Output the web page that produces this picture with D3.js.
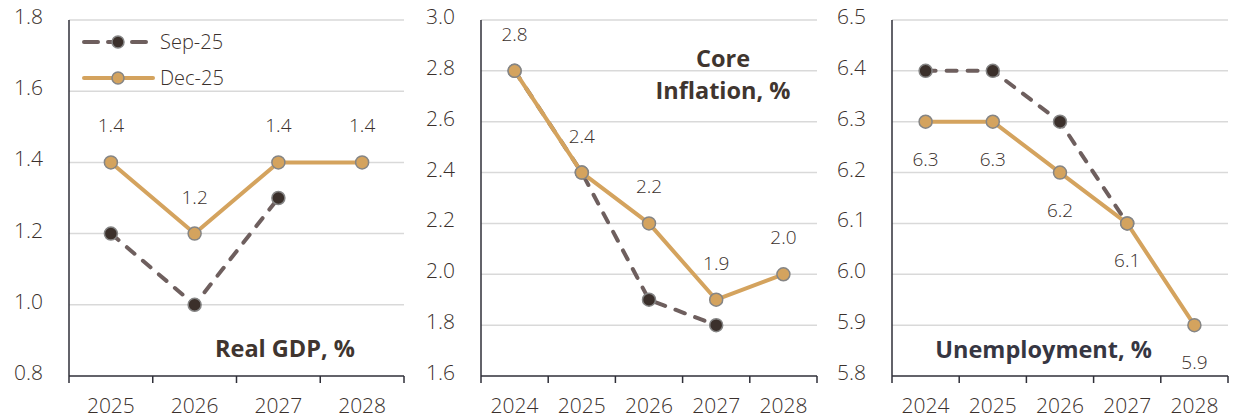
<!DOCTYPE html>
<html>
<head>
<meta charset="utf-8">
<script src="https://cdn.jsdelivr.net/npm/d3@7"></script>
<style>
  body { margin: 0; background: #fff; }
  svg { display: block; }
</style>
</head>
<body>
<div id="chart"></div>
<script>
// data
var seriesNames = ["Sep-25", "Dec-25"];

var gdpYears = ["2025", "2026", "2027", "2028"];
var gdpSep = [1.2, 1.0, 1.3, null];
var gdpDec = [1.4, 1.2, 1.4, 1.4];
var gdpTicks = [0.8, 1.0, 1.2, 1.4, 1.6, 1.8];

var coreYears = ["2024", "2025", "2026", "2027", "2028"];
var coreSep = [2.8, 2.4, 1.9, 1.8, null];
var coreDec = [2.8, 2.4, 2.2, 1.9, 2.0];
var coreTicks = [1.6, 1.8, 2.0, 2.2, 2.4, 2.6, 2.8, 3.0];

var unempYears = ["2024", "2025", "2026", "2027", "2028"];
var unempSep = [6.4, 6.4, 6.3, 6.1, null];
var unempDec = [6.3, 6.3, 6.2, 6.1, 5.9];
var unempTicks = [5.8, 5.9, 6.0, 6.1, 6.2, 6.3, 6.4, 6.5];

var W = 1242, H = 419;
var plotTop = 20, plotBottom = 376;
var font = "'Open Sans', sans-serif";
var decColor = "#d4a35e", sepColor = "#6e5f5e", sepDot = "#3b302b", dotStroke = "#858585";
var textColor = "#3a302c";

var svg = d3.select("#chart").append("svg")
    .attr("width", W).attr("height", H)
    .style("background", "#fff");

var panels = [
  { x0: 69, x1: 404, years: gdpYears, sep: gdpSep, dec: gdpDec, ticks: gdpTicks, labelDir: -1 },
  { x0: 481, x1: 817, years: coreYears, sep: coreSep, dec: coreDec, ticks: coreTicks, labelDir: -1 },
  { x0: 892, x1: 1228, years: unempYears, sep: unempSep, dec: unempDec, ticks: unempTicks, labelDir: 1 }
];

panels.forEach(function(p) {
  var x = d3.scaleBand().domain(p.years).range([p.x0, p.x1]);
  var y = d3.scaleLinear().domain(d3.extent(p.ticks)).range([plotBottom, plotTop]);
  var g = svg.append("g");

  // gridlines
  g.selectAll(".grid").data(p.ticks.slice(1)).enter().append("line")
    .attr("x1", p.x0).attr("x2", p.x1)
    .attr("y1", function(d) { return y(d); }).attr("y2", function(d) { return y(d); })
    .style("stroke", "#d9d9d9").style("stroke-width", 1.5);

  // y tick labels
  g.selectAll(".ylab").data(p.ticks).enter().append("text")
    .attr("x", p.x0 - 26).attr("y", function(d) { return y(d) + 4; })
    .style("text-anchor", "end")
    .style("font-family", font).style("font-size", "21px").style("font-weight", 300)
    .attr("fill", textColor)
    .text(function(d) { return d.toFixed(1); });

  // axis lines
  g.append("line").attr("x1", p.x0).attr("x2", p.x0).attr("y1", plotTop).attr("y2", plotBottom)
    .style("stroke", "#2f2f38").style("stroke-width", 1.5);
  g.append("line").attr("x1", p.x0).attr("x2", p.x1).attr("y1", plotBottom).attr("y2", plotBottom)
    .style("stroke", "#2f2f38").style("stroke-width", 1.5);
  var edges = p.years.map(function(d) { return x(d); }).concat([p.x1]);
  g.selectAll(".tk").data(edges).enter().append("line")
    .attr("x1", function(d) { return d; }).attr("x2", function(d) { return d; })
    .attr("y1", plotBottom).attr("y2", plotBottom + 7)
    .style("stroke", "#2f2f38").style("stroke-width", 1.5);
  g.selectAll(".xlab").data(p.years).enter().append("text")
    .attr("x", function(d) { return x(d) + x.bandwidth() / 2; })
    .attr("y", 413)
    .style("text-anchor", "middle")
    .style("font-family", font).style("font-size", "21px").style("font-weight", 300)
    .attr("fill", textColor)
    .text(function(d) { return d; });

  var cx = function(d, i) { return x(p.years[i]) + x.bandwidth() / 2; };
  var line = d3.line()
    .defined(function(d) { return d !== null; })
    .x(cx).y(function(d) { return y(d); });

  // Sep-25 dashed
  g.append("path").datum(p.sep).attr("d", line)
    .style("fill", "none").style("stroke", sepColor).style("stroke-width", 4)
    .style("stroke-dasharray", "10,11").style("stroke-linecap", "round");
  p.sep.forEach(function(d, i) {
    if (d === null) return;
    g.append("circle").attr("cx", cx(d, i)).attr("cy", y(d)).attr("r", 6.5)
      .style("fill", sepDot).style("stroke", dotStroke).style("stroke-width", 1.5);
  });

  // Dec-25 solid
  g.append("path").datum(p.dec).attr("d", line)
    .style("fill", "none").style("stroke", decColor).style("stroke-width", 4)
    .style("stroke-linejoin", "round");
  p.dec.forEach(function(d, i) {
    if (d === null) return;
    g.append("circle").attr("cx", cx(d, i)).attr("cy", y(d)).attr("r", 6.5)
      .style("fill", decColor).style("stroke", dotStroke).style("stroke-width", 1.5);
    g.append("text")
      .attr("x", cx(d, i))
      .attr("y", y(d) + (p.labelDir < 0 ? -30 : 44))
      .style("text-anchor", "middle")
      .style("font-family", font).style("font-size", "19px").style("font-weight", 300)
      .attr("fill", textColor)
      .text(d.toFixed(1));
  });
});

// titles
function title(lines, x, y, anchor, color) {
  lines.forEach(function(t, i) {
    svg.append("text").attr("x", x).attr("y", y + i * 32)
      .style("text-anchor", anchor)
      .style("font-family", font).style("font-weight", "bold").style("font-size", "23.5px")
      .attr("fill", color).text(t);
  });
}
title(["Real GDP, %"], 355, 357, "end", "#40352f");
title(["Core", "Inflation, %"], 723, 67, "middle", "#40352f");
title(["Unemployment, %"], 1152, 358, "end", "#363642");

// legend
var legend = svg.append("g");
var legY = [42, 78];
legend.append("line").attr("x1", 84).attr("x2", 146).attr("y1", legY[0]).attr("y2", legY[0])
  .style("stroke", sepColor).style("stroke-width", 4)
  .style("stroke-dasharray", "14,10").style("stroke-linecap", "round");
legend.append("circle").attr("cx", 118).attr("cy", legY[0]).attr("r", 6)
  .style("fill", sepDot).style("stroke", dotStroke).style("stroke-width", 1.5);
legend.append("line").attr("x1", 84).attr("x2", 153).attr("y1", legY[1]).attr("y2", legY[1])
  .style("stroke", decColor).style("stroke-width", 4).style("stroke-linecap", "round");
legend.append("circle").attr("cx", 118).attr("cy", legY[1]).attr("r", 6)
  .style("fill", decColor).style("stroke", dotStroke).style("stroke-width", 1.5);
legend.selectAll(".lt").data(seriesNames).enter().append("text")
  .attr("x", 160).attr("y", function(d, i) { return legY[i] + 7; })
  .style("font-family", font).style("font-size", "20px").style("font-weight", 300)
  .attr("fill", textColor)
  .text(function(d) { return d; });
</script>
</body>
</html>
